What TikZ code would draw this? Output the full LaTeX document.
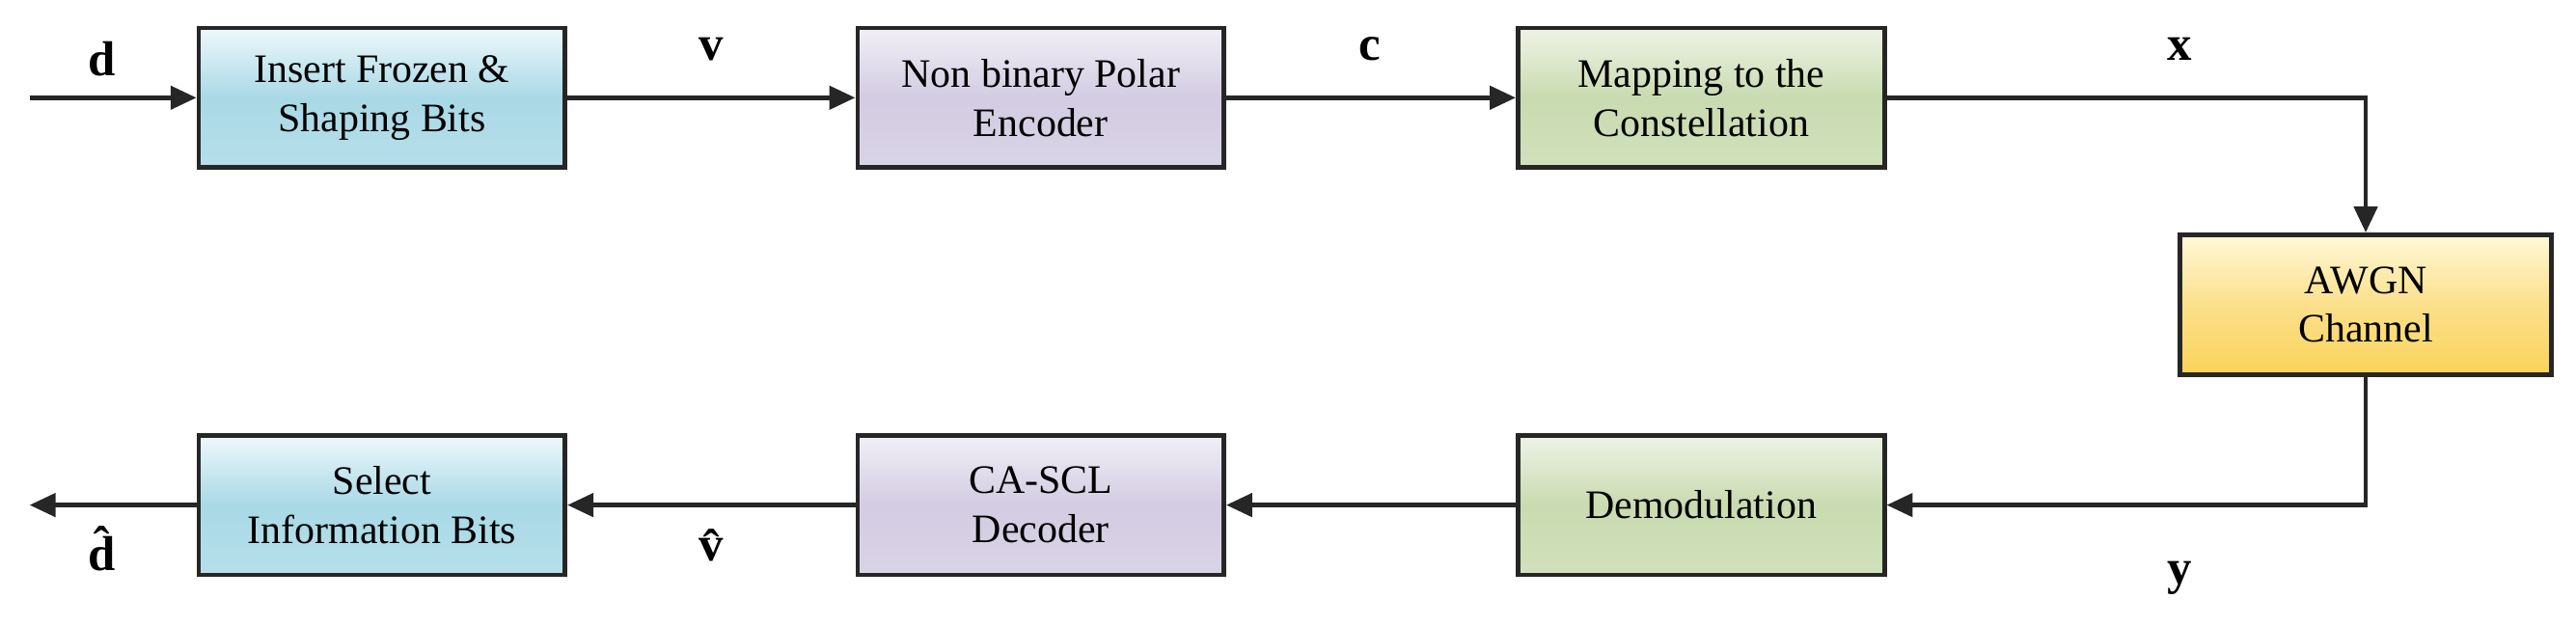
\documentclass[tikz,border=0pt]{standalone}
\usepackage{fontspec}
\setmainfont{Liberation Serif}
\usetikzlibrary{arrows.meta}
\definecolor{bT}{HTML}{EEF8FB}\definecolor{bM}{HTML}{A9D9E6}
\definecolor{pT}{HTML}{F1EFF6}\definecolor{pM}{HTML}{D3CCE2}
\definecolor{gT}{HTML}{EEF3E6}\definecolor{gM}{HTML}{C9DBB0}
\definecolor{yT}{HTML}{FFF8D8}\definecolor{yM}{HTML}{FAD35A}
\begin{document}
\begin{tikzpicture}[x=0.02cm,y=-0.02cm,
 box/.style={draw=black!85,line width=1.6pt,minimum width=4.46cm,minimum height=1.7cm,align=center,
   font=\fontsize{14}{17}\selectfont,inner sep=0pt},
 blu/.style={box,top color=bT,bottom color=bM!85!white,middle color=bM},
 pur/.style={box,top color=pT,bottom color=pM!85!white,middle color=pM},
 grn/.style={box,top color=gT,bottom color=gM!85!white,middle color=gM},
 yel/.style={box,top color=yT,bottom color=yM,middle color=yM!70!white},
 arr/.style={line width=1.6pt,draw=black!85,-{Triangle[length=9pt,width=8pt]}},
 lab/.style={font=\fontsize{17}{20}\selectfont\bfseries}]
\useasboundingbox (0,0) rectangle (1568,381);
\node[blu] (b1) at (232.5,59.5) {Insert Frozen \&\\Shaping Bits};
\node[pur] (b2) at (633.5,59.5) {Non binary Polar\\Encoder};
\node[grn] (b3) at (1035.5,59.5) {Mapping to the\\Constellation};
\node[yel, minimum width=4.52cm] (ch) at (1440,185.5) {AWGN\\Channel};
\node[grn] (b4) at (1035.5,307.5) {Demodulation};
\node[pur] (b5) at (633.5,307.5) {CA-SCL\\Decoder};
\node[blu] (b6) at (232.5,307.5) {Select\\Information Bits};
\coordinate (in) at (18,59.5);
\coordinate (out) at (18,307.5);
\draw[arr] (in) -- (b1);
\draw[arr] (b1) -- (b2);
\draw[arr] (b2) -- (b3);
\draw[arr] (b3.east) -| (ch.north);
\draw[arr] (ch.south) |- (b4.east);
\draw[arr] (b4) -- (b5);
\draw[arr] (b5) -- (b6);
\draw[arr] (b6) -- (out);
\node[lab] (ld) at (62,36) {d};
\node[lab] (lv) at (433,30) {v};
\node[lab] (lc) at (834,30) {c};
\node[lab] (lx) at (1327,30) {x};
\node[lab] (ldh) at (62,334) {\^{d}};
\node[lab] (lvh) at (433,332) {\^{v}};
\node[lab] (ly) at (1327,352) {y};
\end{tikzpicture}
\end{document}
